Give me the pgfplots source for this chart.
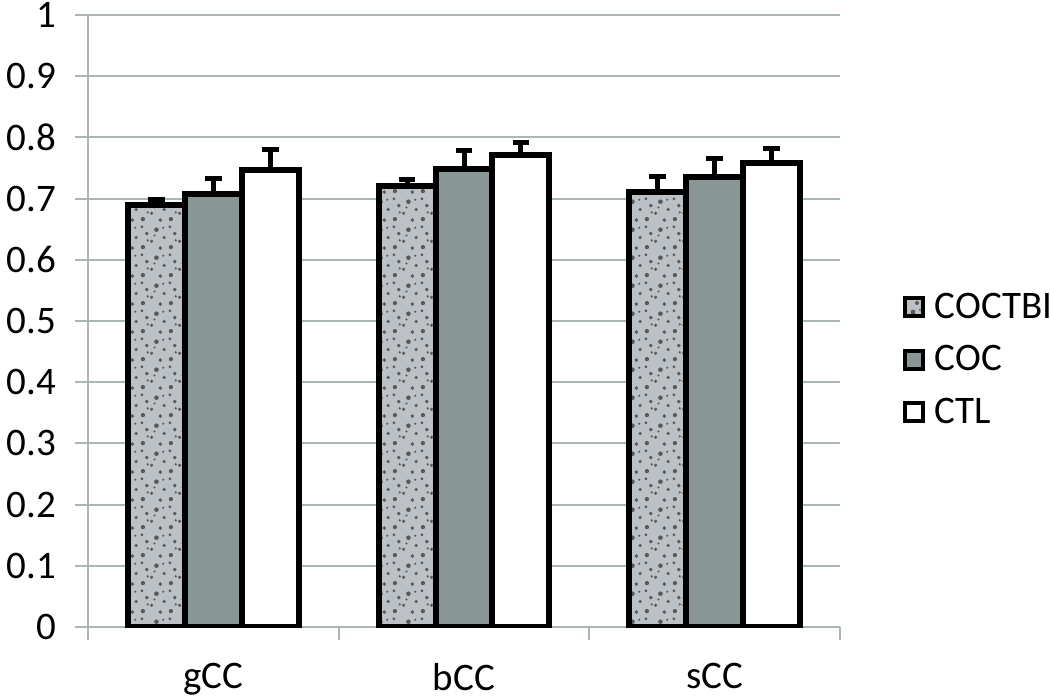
\documentclass[border=0pt]{standalone}
\usepackage{pgfplots}
\pgfplotsset{compat=1.18}
\usepackage{fontspec}
\setmainfont{Carlito}
\usetikzlibrary{patterns}
\definecolor{gridgray}{RGB}{168,182,180}
\definecolor{cocgray}{RGB}{136,151,149}
\definecolor{speck}{RGB}{188,193,197}
\pgfdeclarepatternformonly{speckle}{\pgfpointorigin}{\pgfpoint{14pt}{14pt}}{\pgfpoint{14pt}{14pt}}{%
  \pgfpathcircle{\pgfpoint{1.5pt}{2pt}}{1.1pt}
  \pgfpathcircle{\pgfpoint{6pt}{5pt}}{0.9pt}
  \pgfpathcircle{\pgfpoint{10.5pt}{1.5pt}}{1pt}
  \pgfpathcircle{\pgfpoint{3.5pt}{9pt}}{1pt}
  \pgfpathcircle{\pgfpoint{8.5pt}{11pt}}{1.2pt}
  \pgfpathcircle{\pgfpoint{12.5pt}{7pt}}{0.9pt}
  \pgfpathcircle{\pgfpoint{1pt}{12.5pt}}{0.8pt}
  \pgfpathcircle{\pgfpoint{7.5pt}{8pt}}{0.6pt}
  \pgfpathcircle{\pgfpoint{12pt}{12pt}}{0.6pt}
  \pgfpathcircle{\pgfpoint{4pt}{5.5pt}}{0.6pt}
  \pgfusepath{fill}}
\begin{document}
\begin{tikzpicture}
\useasboundingbox (-44pt,-35.5pt) rectangle (481pt,313.5pt);
\begin{axis}[
  scale only axis,
  width=376pt, height=306pt,
  xmin=-0.5, xmax=2.5,
  ymin=0, ymax=1,
  ytick={0,0.1,...,1},
  xtick={0,1,2},
  xticklabels={gCC,bCC,sCC},
  minor xtick={-0.5,0.5,1.5,2.5},
  axis lines*=left,
  axis line style={gridgray, line width=1pt},
  ymajorgrids,
  major grid style={gridgray, line width=1pt},
  tick align=outside,
  major tick length=6.5pt,
  minor tick length=6.5pt,
  major x tick style={draw=none},
  minor x tick style={gridgray, line width=1pt},
  ytick style={gridgray, line width=1pt},
  /pgf/number format/assume math mode=true,
  /pgf/number format/fixed,
  /pgf/number format/precision=1,
  tick label style={font=\fontsize{19.5}{23}\selectfont, black},
  yticklabel style={xshift=-6pt},
  xticklabel style={yshift=-8pt},
  ybar,
  bar width=0.227,
  every axis plot/.append style={line width=3pt, draw=black},
  error bars/y dir=plus,
  error bars/y explicit,
  error bars/error bar style={line width=2.5pt, black},
  error bars/error mark options={rotate=90, mark size=4.2pt, line width=2.5pt, black},
  legend cell align=left,
  legend style={at={(rel axis cs:1.075,0.437)}, anchor=west, draw=none, fill=none,
    font=\fontsize{19.5}{23}\selectfont, row sep=8pt,
    /tikz/every odd column/.append style={column sep=3pt}},
  legend image code/.code={\draw[#1, line width=2pt] (0pt,-4.5pt) rectangle (9pt,4.5pt);},
]
\addplot[fill=speck, postaction={pattern=speckle, pattern color=black!65}, bar shift=-0.227]
  coordinates {(0,0.689) +- (0,0.009) (1,0.720) +- (0,0.012) (2,0.710) +- (0,0.026)};
\addplot[fill=cocgray, bar shift=0]
  coordinates {(0,0.707) +- (0,0.026) (1,0.748) +- (0,0.031) (2,0.735) +- (0,0.030)};
\addplot[fill=white, bar shift=0.227]
  coordinates {(0,0.746) +- (0,0.034) (1,0.771) +- (0,0.021) (2,0.758) +- (0,0.024)};
\legend{COCTBI,COC,CTL}
\end{axis}
\end{tikzpicture}
\end{document}
